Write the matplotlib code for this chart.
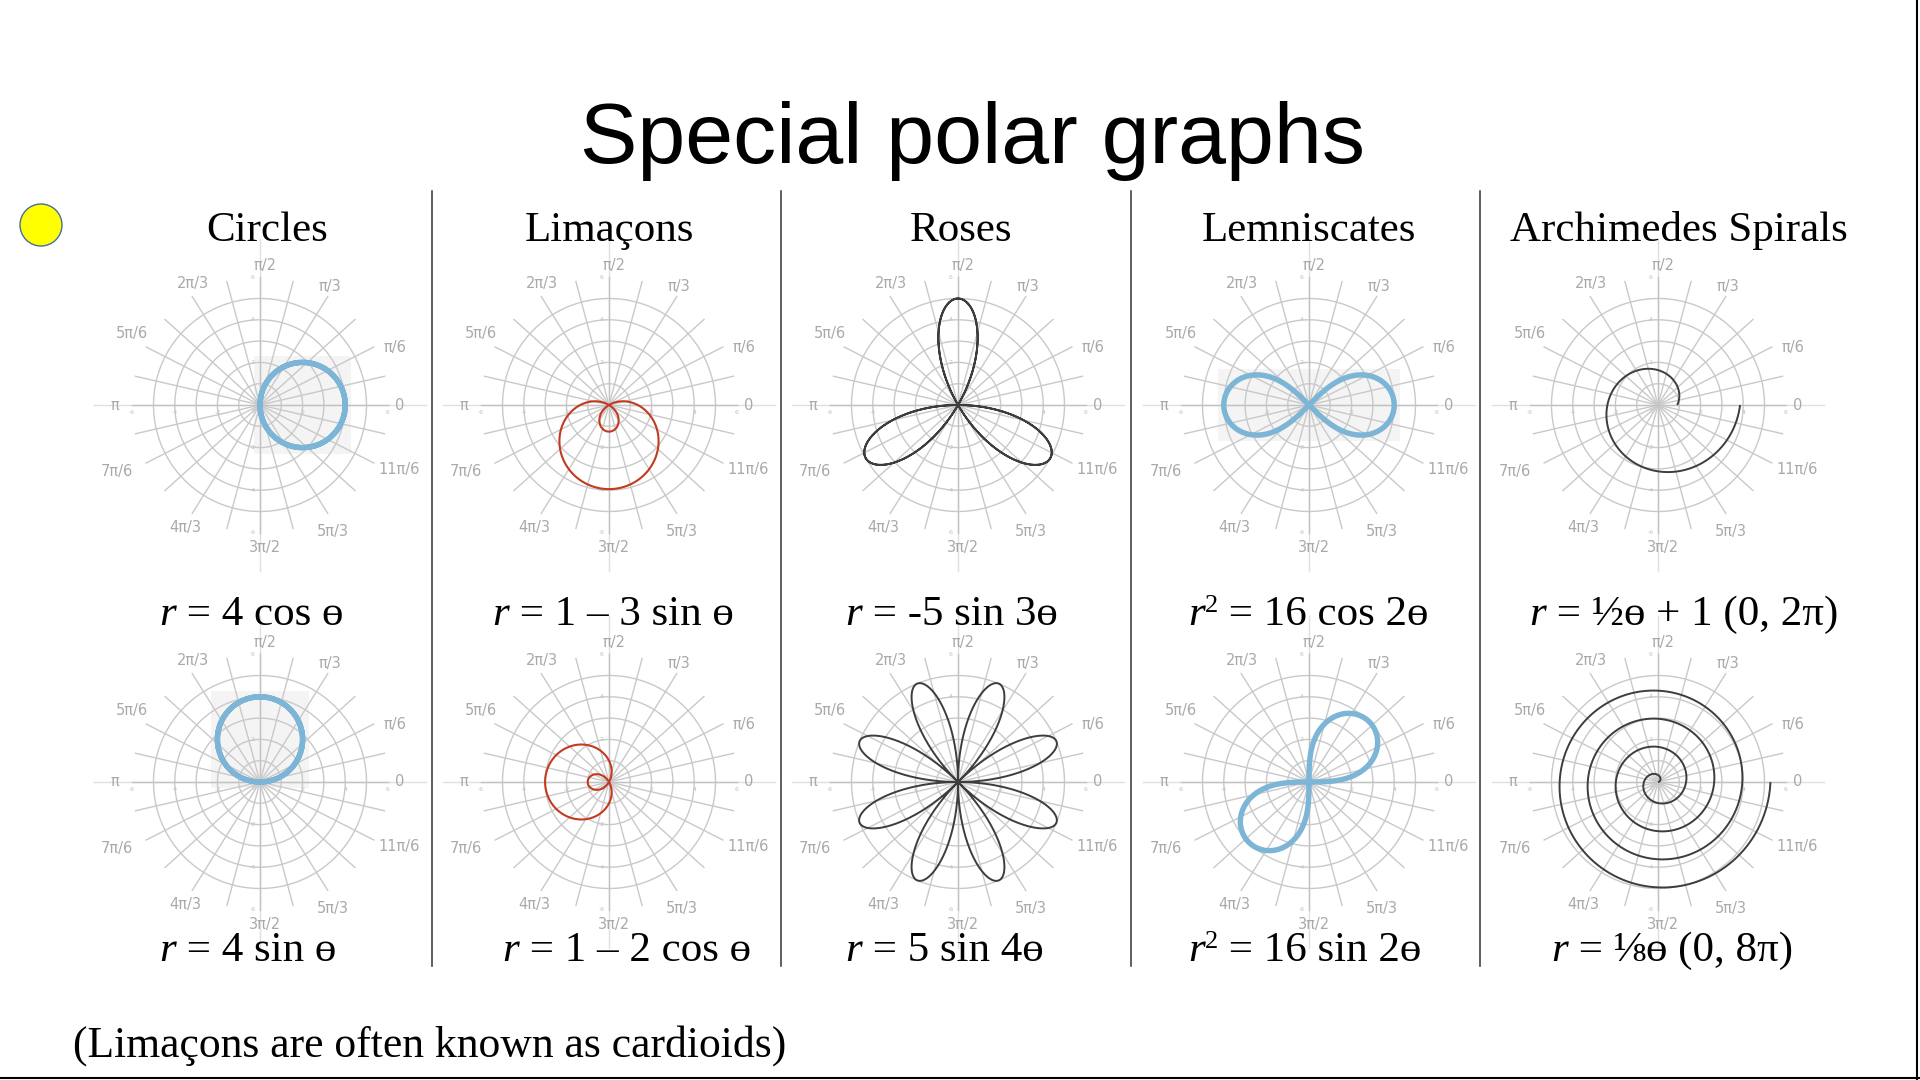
import numpy as np
import matplotlib.pyplot as plt
from matplotlib.patches import Circle, Rectangle

# slide text
title = "Special polar graphs"
headers = ["Circles", "Limaçons", "Roses", "Lemniscates", "Archimedes Spirals"]
header_x = [267, 609, 961, 1309, 1679]
footer = "(Limaçons are often known as cardioids)"

# equations: (superscript on r, right hand side), left edge in px
eq_top = [("", " = 4 cos ɵ"), ("", " = 1 – 3 sin ɵ"), ("", " = -5 sin 3ɵ"),
          ("2", " = 16 cos 2ɵ"), ("", " = ½ɵ + 1 (0, 2π)")]
eq_bottom = [("", " = 4 sin ɵ"), ("", " = 1 – 2 cos ɵ"), ("", " = 5 sin 4ɵ"),
             ("2", " = 16 sin 2ɵ"), ("", " = ⅛ɵ (0, 8π)")]
eq_top_x = [159, 492, 845, 1188, 1529]
eq_bottom_x = [159, 502, 845, 1188, 1551]

# polar grid
grid_radii = [1, 2, 3, 4, 5]
spoke_quadrant = [13, 27, 42, 58, 75]
axis_ticks = [-6, -4, -2, 2, 4, 6]
angle_labels = ["0", "π/6", "π/3", "π/2", "2π/3", "5π/6", "π",
                "7π/6", "4π/3", "3π/2", "5π/3", "11π/6"]
angle_label_deg = [0, 23, 59.5, 88, 119, 151, 180, 205, 238.5, 272, 300, 335]
angle_label_rad = [6.55, 6.9, 6.45, 6.55, 6.5, 6.9, 6.8, 7.4, 6.75, 6.7, 6.85, 7.2]

# curve parameters
circle_d = 4                   # r = d cos / d sin
limacon_top = (1.35, 2.6)      # r = a - b sin t
limacon_bottom = (1.0, 2.0)    # r = a - b cos t
rose_top = (-5, 3)             # r = k sin(n t)
rose_bottom = (5, 4)
lemn_a2 = 16                   # r^2 = a2 cos 2t / sin 2t
spiral_top = (0.47, 0.9, 2 * np.pi)   # r = k t + c, t in (0, end)
spiral_bottom = (0.21, 0.0, 8 * np.pi)

col_x = [260, 609, 958, 1309, 1658]
row_y = [405, 782]
ppu = 21.3

BLUE = "#7db5d6"
RED = "#c23a20"
DARK = "#3d3d3d"
GRID = "#c9c9c9"
LABEL = "#a9a9a9"
SERIF = ["Liberation Serif", "DejaVu Serif"]

fig = plt.figure(figsize=(19.2, 10.8), dpi=100)
fig.patch.set_facecolor("white")


def polar_ax(cx, cy):
    half = 8 * ppu
    ax = fig.add_axes([(cx - half) / 1920, (1080 - cy - half) / 1080,
                       2 * half / 1920, 2 * half / 1080])
    ax.set_xlim(-8, 8)
    ax.set_ylim(-8, 8)
    ax.axis("off")
    t = np.linspace(0, 2 * np.pi, 400)
    for rr in grid_radii:
        ax.plot(rr * np.cos(t), rr * np.sin(t), color=GRID, lw=1.0, zorder=1)
    for a in spoke_quadrant:
        for ang in (a, 180 - a, 180 + a, 360 - a):
            rad = np.deg2rad(ang)
            ax.plot([0, 6 * np.cos(rad)], [0, 6 * np.sin(rad)], color=GRID, lw=1.0, zorder=1)
    ax.plot([-7.8, 7.8], [0, 0], color="#e0e0e0", lw=1.0, zorder=1, clip_on=False)
    ax.plot([0, 0], [-7.8, 7.8], color="#e0e0e0", lw=1.0, zorder=1, clip_on=False)
    ax.plot([-6, 6], [0, 0], color="#c2c2c2", lw=1.0, zorder=1)
    ax.plot([0, 0], [-6, 6], color="#c2c2c2", lw=1.0, zorder=1)
    for v in axis_ticks:
        ax.text(v, -0.35, str(v), fontsize=4.5, color="#c0c0c0", ha="center", va="center")
        ax.text(-0.35, v, str(v), fontsize=4.5, color="#c0c0c0", ha="center", va="center")
    ax.text(-0.3, -0.3, "0", fontsize=4.5, color="#c0c0c0", ha="center", va="center")
    for lab, d, rr in zip(angle_labels, angle_label_deg, angle_label_rad):
        rad = np.deg2rad(d)
        ax.text(rr * np.cos(rad), rr * np.sin(rad), lab, fontsize=10.5, color=LABEL,
                family="DejaVu Sans", ha="center", va="center", clip_on=False)
    return ax


def draw_curve(ax, t, r, color, lw, shade=False):
    x = r * np.cos(t)
    y = r * np.sin(t)
    if shade:
        pad = 0.28
        ax.add_patch(Rectangle((x.min() - pad, y.min() - pad),
                               x.max() - x.min() + 2 * pad, y.max() - y.min() + 2 * pad,
                               facecolor="#f4f4f4", edgecolor="none", zorder=0))
    ax.plot(x, y, color=color, lw=lw, zorder=3, solid_capstyle="butt")


t = np.linspace(0, 2 * np.pi, 3001)

# row 1
ax = polar_ax(col_x[0], row_y[0])
draw_curve(ax, t, circle_d * np.cos(t), BLUE, 3.9, shade=True)
ax = polar_ax(col_x[1], row_y[0])
draw_curve(ax, t, limacon_top[0] - limacon_top[1] * np.sin(t), RED, 1.5)
ax = polar_ax(col_x[2], row_y[0])
draw_curve(ax, t, rose_top[0] * np.sin(rose_top[1] * t), DARK, 1.4)
ax = polar_ax(col_x[3], row_y[0])
draw_curve(ax, t, np.sqrt(lemn_a2 * np.clip(np.cos(2 * t), 0, None)), BLUE, 3.9, shade=True)
ax = polar_ax(col_x[4], row_y[0])
ts = np.linspace(0, spiral_top[2], 2000)
draw_curve(ax, ts, spiral_top[0] * ts + spiral_top[1], DARK, 1.4)

# row 2
ax = polar_ax(col_x[0], row_y[1])
draw_curve(ax, t, circle_d * np.sin(t), BLUE, 3.9, shade=True)
ax = polar_ax(col_x[1], row_y[1])
draw_curve(ax, t, limacon_bottom[0] - limacon_bottom[1] * np.cos(t), RED, 1.5)
ax = polar_ax(col_x[2], row_y[1])
draw_curve(ax, t, rose_bottom[0] * np.sin(rose_bottom[1] * t), DARK, 1.4)
ax = polar_ax(col_x[3], row_y[1])
draw_curve(ax, t, np.sqrt(lemn_a2 * np.clip(np.sin(2 * t), 0, None)), BLUE, 3.9)
ax = polar_ax(col_x[4], row_y[1])
ts = np.linspace(0, spiral_bottom[2], 6000)
draw_curve(ax, ts, spiral_bottom[0] * ts + spiral_bottom[1], DARK, 1.4)

# overlay in pixel coordinates for the slide text
ov = fig.add_axes([0, 0, 1, 1])
ov.set_xlim(0, 1920)
ov.set_ylim(1080, 0)
ov.axis("off")
ov.set_zorder(5)

ov.text(973, 163, title, fontsize=62, family="Liberation Sans", ha="center", va="baseline")
for h, x in zip(headers, header_x):
    ov.text(x, 241, h, fontsize=31, family=SERIF, ha="center", va="baseline")
ov.text(73, 1057, footer, fontsize=31.4, family=SERIF, ha="left", va="baseline")

for sx in [432, 781, 1131, 1480]:
    ov.plot([sx, sx], [191, 966], color="#333333", lw=1.1)

ov.add_patch(Circle((41, 225), 21, facecolor="#ffff00", edgecolor="#41719c", lw=1.0))
ov.plot([1917, 1917], [0, 1080], color="black", lw=1.5, clip_on=False)
ov.plot([0, 1920], [1078, 1078], color="black", lw=1.5, clip_on=False)


def equation(x, y, sup, rhs):
    t1 = ov.text(x, y, "r", fontsize=31, family="Liberation Serif", style="italic",
                 ha="left", va="baseline")
    prev = t1
    if sup:
        prev = ov.annotate(sup, xy=(1.0, 0.45), xycoords=t1, fontsize=19,
                           family="Liberation Serif", ha="left", va="bottom")
    ov.annotate(rhs, xy=(1.0, 0.0), xycoords=(prev, t1), fontsize=31,
                family=SERIF, ha="left", va="bottom")


for (sup, rhs), x in zip(eq_top, eq_top_x):
    equation(x, 625, sup, rhs)
for (sup, rhs), x in zip(eq_bottom, eq_bottom_x):
    equation(x, 961, sup, rhs)

fig.savefig("out.png", dpi=100, facecolor="white")
